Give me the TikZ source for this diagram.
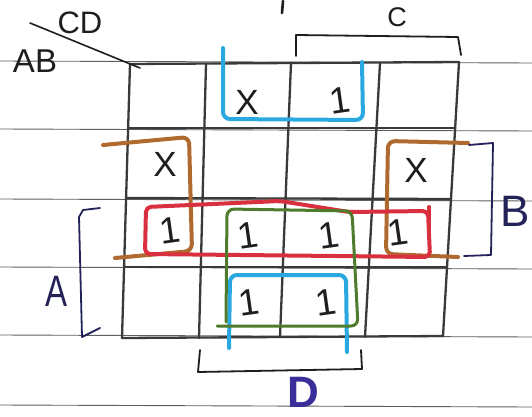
\documentclass[tikz,border=0pt]{standalone}
\usepackage{fontspec}
\setmainfont{Liberation Sans}
\definecolor{gridc}{HTML}{3A3A3A}
\definecolor{rulec}{HTML}{5E5E5E}
\definecolor{ink}{HTML}{1E1E1E}
\definecolor{navy}{HTML}{23235A}
\definecolor{dblue}{HTML}{3A2E9A}
\definecolor{mcyan}{HTML}{2AA8E0}
\definecolor{mbrown}{HTML}{B0692E}
\definecolor{mred}{HTML}{D8303E}
\definecolor{mgreen}{HTML}{4E7B2C}
\begin{document}
\begin{tikzpicture}[x=1pt,y=-1pt,
  ruled/.style={rulec, line width=0.9pt},
  gridline/.style={gridc, line width=2.3pt, line cap=round},
  marker/.style={line width=4pt, rounded corners=7pt, line cap=round, line join=round},
  brk/.style={line width=1.8pt, line cap=round, line join=round},
  lbl/.style={inner sep=0pt, text=ink},
  cellx/.style={lbl, font=\fontsize{35}{35}\selectfont},
  cellone/.style={lbl, font=\fontsize{37}{37}\selectfont, rotate=8}]
\useasboundingbox (0,0) rectangle (532,417);
\fill[white] (0,0) rectangle (532,417);
% ruled paper lines
\foreach \y in {61,129,199,267,335,405}
  \draw[ruled] (0,\y) -- (532,\y+2);
% grid corners
\coordinate (t0) at (130,64); \coordinate (b0) at (122,338);
\coordinate (t1) at (206,64); \coordinate (b1) at (199,338);
\coordinate (t2) at (291,63); \coordinate (b2) at (280,337);
\coordinate (t3) at (380,63); \coordinate (b3) at (365,337);
\coordinate (t4) at (459,62); \coordinate (b4) at (443,336);
\coordinate (l1) at (128,128); \coordinate (r1) at (455,128);
\coordinate (l2) at (126,198); \coordinate (r2) at (451,199);
\coordinate (l3) at (124,267); \coordinate (r3) at (447,267);
\foreach \i in {0,...,4} \draw[gridline] (t\i) -- (b\i);
\draw[gridline] (t0) -- (t4);
\foreach \i in {1,2,3} \draw[gridline] (l\i) -- (r\i);
\draw[gridline] (b0) -- (b4);
% corner labels
\coordinate (dg1) at (30,23); \coordinate (dg2) at (140,68);
\draw[ink, line width=1.6pt, line cap=round] (dg1) -- (dg2);
\node[lbl, font=\fontsize{31}{31}\selectfont] (cd) at (80,23) {CD};
\node[lbl, font=\fontsize{33}{33}\selectfont] (ab) at (35,61) {AB};
% stray mark at top
\coordinate (sm1) at (283,1); \coordinate (sm2) at (282,13);
\draw[ink, line width=2.6pt, line cap=round] (sm1) -- (sm2);
% coloured groups
\draw[marker, mcyan] (223,48) -- (223,119) -- (363,120) -- (362,62);
\draw[marker, mcyan] (229,348) -- (230,275) -- (346,275) -- (347,352);
\draw[marker, mbrown] (103,145) -- (189,137) -- (192,251) -- (115,258);
\draw[marker, mbrown] (468,143) -- (388,141) -- (386,254) -- (458,257);
\draw[marker, mred, rounded corners=5pt] (145,254) -- (146,207) -- (280,201) -- (349,212) -- (428,211) -- (430,257) -- cycle;
\draw[marker, mred, rounded corners=0pt] (429,207) -- (429,230);
\draw[marker, mgreen, line width=3pt] (226,322) -- (227,209) -- (352,211) -- (358,326) -- (217,326);
% brackets
\coordinate (c1) at (296,56); \coordinate (c2) at (461,55);
\draw[brk, ink] (c1) -- (296,35) -- (458,37) -- (c2);
\coordinate (bb1) at (469,145); \coordinate (bb2) at (464,256);
\draw[brk, navy] (bb1) -- (493,143) -- (491,255) -- (bb2);
\coordinate (a1) at (100,208); \coordinate (a2) at (100,328);
\draw[brk, navy] (a1) -- (83,210) -- (79,217) -- (82,337) -- (a2);
\coordinate (d1) at (200,350); \coordinate (d2) at (361,350);
\draw[brk, ink] (d1) -- (198,372) -- (362,369) -- (d2);
% bracket labels
\node[lbl, font=\fontsize{27}{27}\selectfont] (lc) at (397,17) {C};
\node[lbl, text=navy, font=\fontsize{44}{44}\selectfont, anchor=east] (lb) at (530,211) {B};
\node[lbl, text=navy, font=\fontsize{44}{44}\selectfont, xscale=0.75] (la) at (57,291) {A};
\node[lbl, text=dblue, font=\fontsize{44}{44}\selectfont\bfseries] (ld) at (303,392) {D};
% cell entries
\node[cellx] (x01) at (247,102) {X};
\node[cellone] (o02) at (340,100) {1};
\node[cellx] (x10) at (165,164) {X};
\node[cellx] (x13) at (416,170) {X};
\node[cellone] (o20) at (170,230) {1};
\node[cellone] (o21) at (248,235) {1};
\node[cellone] (o22) at (329,235) {1};
\node[cellone] (o23) at (398,232) {1};
\node[cellone] (o31) at (249,302) {1};
\node[cellone] (o32) at (326,302) {1};
\end{tikzpicture}
\end{document}
